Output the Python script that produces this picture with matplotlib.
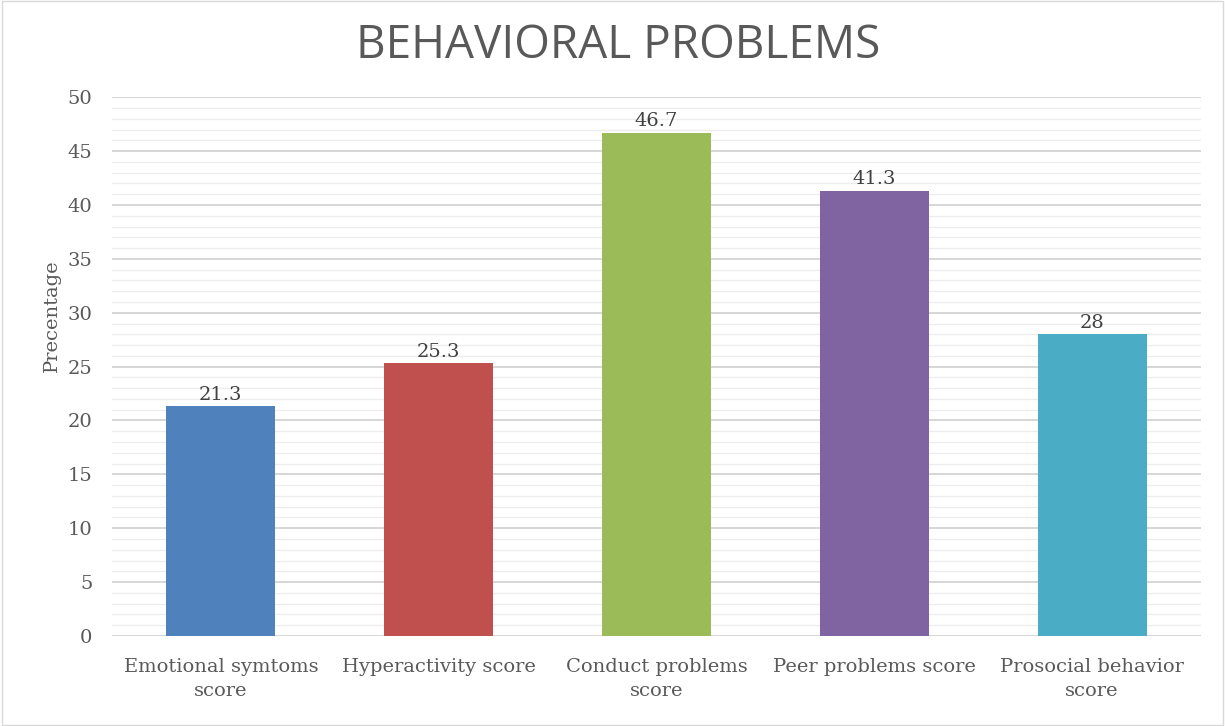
import numpy as np
import matplotlib.pyplot as plt
from matplotlib.patches import Rectangle

categories = ["Emotional symtoms\nscore", "Hyperactivity score", "Conduct problems\nscore",
              "Peer problems score", "Prosocial behavior\nscore"]
values = [21.3, 25.3, 46.7, 41.3, 28]
labels = ["21.3", "25.3", "46.7", "41.3", "28"]
colors = ["#4F81BD", "#C0504D", "#9BBB59", "#8064A2", "#4BACC6"]

fig = plt.figure(figsize=(12.25, 7.26), dpi=100)
ax = fig.add_axes([0.0914, 0.124, 0.889, 0.742])

x = np.arange(len(categories))
ax.bar(x, values, width=0.5, color=colors, zorder=3)
for xi, v, t in zip(x, values, labels):
    ax.text(xi, v + 0.25, t, ha="center", va="bottom", fontsize=14,
            family="DejaVu Serif", color="#404040")

ax.set_xlim(-0.5, len(categories) - 0.5)
ax.set_ylim(0, 50)
ax.set_yticks(np.arange(0, 51, 5))
ax.set_yticks(np.arange(0, 51, 1), minor=True)
ax.grid(axis="y", which="major", color="#d0d0d0", linewidth=1.2, zorder=0)
ax.grid(axis="y", which="minor", color="#ececec", linewidth=0.9, zorder=0)
ax.set_xticks(x)
ax.set_xticklabels(categories, family="DejaVu Serif", fontsize=14, color="#595959",
                   linespacing=1.45)
for lab in ax.get_yticklabels():
    lab.set_family("DejaVu Serif")
ax.tick_params(axis="y", labelsize=14, labelcolor="#595959", length=0, pad=14)
ax.tick_params(axis="x", length=0, pad=16)
ax.tick_params(axis="y", which="minor", length=0)
for s in ax.spines.values():
    s.set_visible(False)

fig.text(0.505, 0.937, "BEHAVIORAL PROBLEMS", ha="center", va="center",
         fontsize=33, family="Open Sans", color="#595959")
fig.text(0.042, 0.565, "Precentage", rotation=90, ha="center", va="center",
         fontsize=14, family="DejaVu Serif", color="#595959")

fig.patches.append(Rectangle((0.002, 0.002), 0.996, 0.996, transform=fig.transFigure,
                             fill=False, edgecolor="#d9d9d9", linewidth=1))

fig.savefig("out.png", dpi=100)
